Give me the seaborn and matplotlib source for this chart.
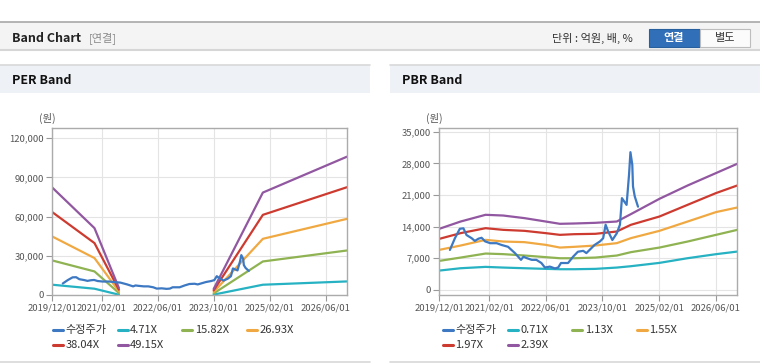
import matplotlib
matplotlib.use("Agg")
import matplotlib.pyplot as plt
import matplotlib.dates as mdates
from matplotlib.patches import Rectangle
from matplotlib.lines import Line2D
from matplotlib.ticker import FuncFormatter
import seaborn as sns
import pandas as pd

# 수정주가 (두 차트 공통)
price_dates = ["2020-03-01", "2020-04-13", "2020-05-25", "2020-06-25", "2020-07-22", "2020-09-04",
               "2020-10-01", "2020-11-01", "2020-11-28", "2020-12-28", "2021-02-10", "2021-04-06",
               "2021-05-19", "2021-07-13", "2021-09-10", "2021-11-01", "2021-11-22", "2021-12-19",
               "2022-02-01", "2022-03-13", "2022-04-25", "2022-05-25", "2022-07-07", "2022-08-19",
               "2022-09-16", "2022-10-10", "2022-12-10", "2023-01-22", "2023-03-04", "2023-04-19",
               "2023-05-16", "2023-06-28", "2023-07-25", "2023-09-10", "2023-10-07", "2023-10-28",
               "2023-11-19", "2023-12-25", "2024-02-01", "2024-02-28", "2024-03-16", "2024-04-25",
               "2024-05-16", "2024-05-28", "2024-06-13", "2024-06-19", "2024-07-04", "2024-08-01"]
price_values = [8800, 11400, 13500, 13600, 12100, 11400,
                10800, 11300, 11500, 10700, 10300, 10300,
                9900, 9500, 8100, 6600, 7300, 7000,
                6600, 6600, 5900, 4900, 5100, 4700,
                4900, 5900, 5900, 7300, 8400, 8600,
                8100, 9200, 9900, 10700, 11400, 14400,
                12900, 11000, 12500, 14400, 20300, 18800,
                25500, 30500, 27700, 22900, 20700, 18400]

# PER 밴드 (2021/07 ~ 2023/10 구간은 값 없음)
per_dates = ["2019-12-01", "2020-12-01", "2021-07-01", "2023-10-01", "2024-12-01", "2026-12-01"]
per_471 = [7860, 4810, 230, 300, 7860, 10380]
per_1582 = [26410, 18020, 1530, 1200, 25650, 34050]
per_2693 = [44730, 28250, 2750, 2300, 42980, 58250]
per_3804 = [63360, 39700, 4050, 3500, 61300, 82450]
per_4915 = [82150, 51150, 5340, 4600, 78340, 105800]
per_labels = ["4.71X", "15.82X", "26.93X", "38.04X", "49.15X"]

# PBR 밴드
pbr_dates = ["2019-12-01", "2020-06-01", "2021-01-01", "2021-06-01", "2021-12-01", "2022-06-01",
             "2022-10-01", "2023-02-01", "2023-08-01", "2024-02-01", "2024-06-01", "2025-02-01",
             "2025-10-01", "2026-06-01", "2026-12-01"]
pbr_071 = [4220, 4740, 5040, 4890, 4740, 4600, 4520, 4520, 4600, 4890, 5190, 5930, 6970, 7860, 8440]
pbr_113 = [6370, 7110, 8000, 7870, 7560, 7200, 6960, 6960, 7110, 7560, 8310, 9330, 10670, 12150, 13260]
pbr_155 = [8820, 9780, 11040, 10670, 10530, 9930, 9330, 9490, 9780, 10310, 11420, 13040, 15110, 17200, 18220]
pbr_197 = [11260, 12530, 13630, 13260, 13040, 12530, 12150, 12300, 12380, 12890, 14380, 16220, 18820, 21420, 23110]
pbr_239 = [13490, 15110, 16600, 16440, 15860, 15110, 14600, 14670, 14820, 15110, 16750, 20150, 23110, 25860, 27930]
pbr_labels = ["0.71X", "1.13X", "1.55X", "1.97X", "2.39X"]

price_label = "수정주가"
colors = ["#3d78c3", "#26b2c2", "#8fb352", "#f0a942", "#cd3b30", "#9157a0"]
xtick_dates = ["2019/12/01", "2021/02/01", "2022/06/01", "2023/10/01", "2025/02/01", "2026/06/01"]

sns.set_style("white")
plt.rcParams['font.family'] = ['Noto Sans CJK KR', 'DejaVu Sans']

W, H = 760, 364


def fx(px):
    return px / W


def fy(py):
    return 1 - py / H


def make_frame(dates, bands, labels, split_gap=False):
    rows = []
    d = pd.to_datetime(dates)
    for vals, lab in zip(bands, labels):
        for dt, v in zip(d, vals):
            seg = int(dt.year >= 2023) if split_gap else 0
            rows.append({"date": dt, "value": v, "series": lab, "seg": seg})
    for dt, v in zip(pd.to_datetime(price_dates), price_values):
        rows.append({"date": dt, "value": v, "series": price_label, "seg": 0})
    return pd.DataFrame(rows)


def draw_band(ax, df, labels, ylim, yticks):
    order = labels + [price_label]
    pal = dict(zip([price_label] + labels, colors))
    sns.lineplot(data=df, x="date", y="value", hue="series", hue_order=order, units="seg",
                 estimator=None, palette=pal, linewidth=1.6, legend=False, ax=ax, sort=False)
    ax.set_xlim(pd.Timestamp("2019-12-01"), pd.Timestamp("2026-12-01"))
    ax.set_ylim(*ylim)
    ax.set_yticks(yticks)
    ax.set_xticks(pd.to_datetime(xtick_dates))
    ax.xaxis.set_major_formatter(mdates.DateFormatter("%Y/%m/%d"))
    ax.yaxis.set_major_formatter(FuncFormatter(lambda v, p: f"{int(v):,}"))
    ax.set_xlabel("")
    ax.set_ylabel("")
    ax.grid(True, color="#e4e4e4", linewidth=0.8)
    ax.set_axisbelow(True)
    for s in ax.spines.values():
        s.set_color("#ababab")
        s.set_linewidth(1.0)
    ax.tick_params(axis="both", length=4, width=0.8, color="#999999", labelsize=6.8,
                   labelcolor="#555555", pad=2, direction="out", left=True, bottom=True)


def draw_legend(fig, x0, labels):
    names = [price_label] + labels
    for i, (name, c) in enumerate(zip(names, colors)):
        col, row = i % 4, i // 4
        x = x0 + col * 64.6
        y = 330 + row * 15
        fig.add_artist(Line2D([fx(x), fx(x + 10)], [fy(y), fy(y)], color=c, linewidth=2.2,
                              transform=fig.transFigure))
        fig.text(fx(x + 12.5), fy(y), name, fontsize=8, color="#333333", va="center", ha="left")


fig = plt.figure(figsize=(7.6, 3.64), dpi=100)
fig.patch.set_facecolor("white")

# 상단 헤더
fig.add_artist(Rectangle((0, fy(50)), 1, fy(22) - fy(50), transform=fig.transFigure,
                         facecolor="#f4f4f4", edgecolor="none"))
fig.add_artist(Line2D([0, 1], [fy(22), fy(22)], color="#a8a8a8", linewidth=1.2, transform=fig.transFigure))
fig.add_artist(Line2D([0, 1], [fy(50), fy(50)], color="#d6d6d6", linewidth=1.5, transform=fig.transFigure))
fig.text(fx(12), fy(38), "Band Chart", fontsize=9, fontweight="bold", color="#222222", va="center")
fig.text(fx(89), fy(38), "[연결]", fontsize=8, color="#8a8a8a", va="center")
fig.text(fx(552), fy(38), "단위 : 억원, 배, %", fontsize=8, color="#333333", va="center")
fig.add_artist(Rectangle((fx(648.5), fy(47)), fx(51), fy(29) - fy(47), transform=fig.transFigure,
                         facecolor="#3170b8", edgecolor="#28609f", linewidth=0.8))
fig.text(fx(674), fy(38), "연결", fontsize=8, fontweight="bold", color="white", va="center", ha="center")
fig.add_artist(Rectangle((fx(699.5), fy(47)), fx(50.5), fy(29) - fy(47), transform=fig.transFigure,
                         facecolor="#fbfbfb", edgecolor="#bdbdbd", linewidth=0.8))
fig.text(fx(725), fy(38), "별도", fontsize=8, color="#333333", va="center", ha="center")

# 패널 헤더
for left, right, title in [(0, 370, "PER Band"), (390, 760, "PBR Band")]:
    fig.add_artist(Rectangle((fx(left), fy(92.5)), fx(right - left), fy(64.5) - fy(92.5),
                             transform=fig.transFigure, facecolor="#eef2f7", edgecolor="none"))
    fig.add_artist(Line2D([fx(left), fx(right)], [fy(64.5), fy(64.5)], color="#d8d8d8", linewidth=1.2,
                          transform=fig.transFigure))
    fig.add_artist(Line2D([fx(left), fx(right)], [fy(361.5), fy(361.5)], color="#d8d8d8", linewidth=1.2,
                          transform=fig.transFigure))
    fig.text(fx(left + 12), fy(80), title, fontsize=9, fontweight="bold", color="#111111", va="center")

# PER Band
ax1 = fig.add_axes([fx(52.3), fy(295), fx(294.7), fy(128.3) - fy(295)])
per_df = make_frame(per_dates, [per_471, per_1582, per_2693, per_3804, per_4915], per_labels,
                    split_gap=True)
draw_band(ax1, per_df, per_labels, (0, 127500), [0, 30000, 60000, 90000, 120000])
fig.text(fx(47), fy(118), "(원)", fontsize=7.5, color="#555555", va="center", ha="center")
draw_legend(fig, 53, per_labels)

# PBR Band
ax2 = fig.add_axes([fx(439.3), fy(295), fx(298), fy(128.3) - fy(295)])
pbr_df = make_frame(pbr_dates, [pbr_071, pbr_113, pbr_155, pbr_197, pbr_239], pbr_labels)
draw_band(ax2, pbr_df, pbr_labels, (-1200, 35800), [0, 7000, 14000, 21000, 28000, 35000])
fig.text(fx(434), fy(118), "(원)", fontsize=7.5, color="#555555", va="center", ha="center")
draw_legend(fig, 443, pbr_labels)

fig.savefig("out.png", dpi=100)
